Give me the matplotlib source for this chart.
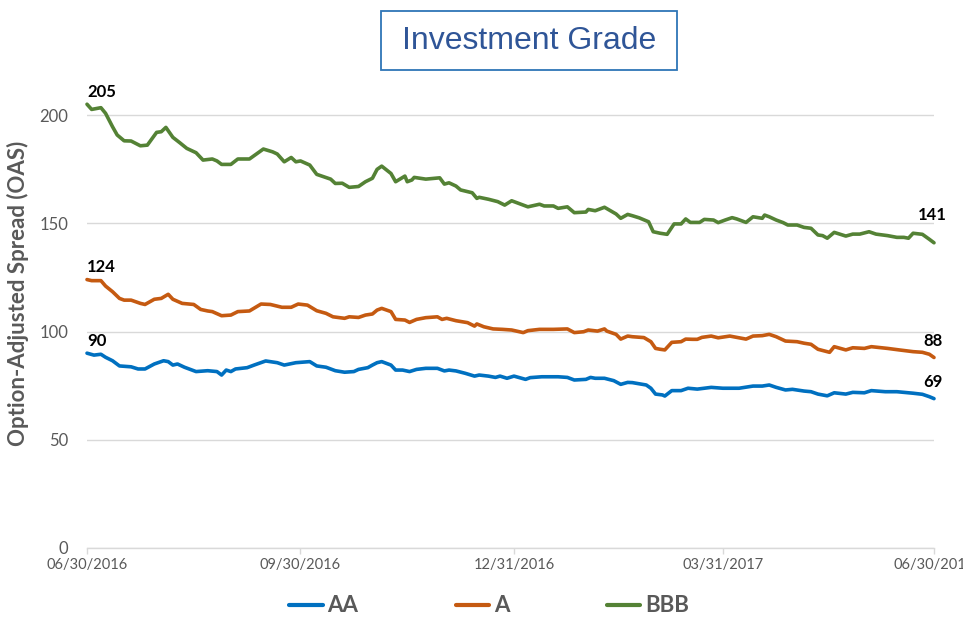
import pandas as pd
import matplotlib
matplotlib.use('Agg')
import matplotlib.pyplot as plt
import matplotlib.dates as mdates
from matplotlib.patches import Rectangle

plt.rcParams['font.family'] = ['Lato', 'DejaVu Sans']

# Data: days since 06/30/2016 and spread (OAS)
start = pd.Timestamp('2016-06-30')

bbb_days = [0, 2, 6, 8, 11, 13, 16, 19, 23, 26, 30, 32, 34, 37, 40, 43, 47, 50, 54, 56,
            58, 62, 65, 70, 73, 76, 80, 82, 85, 88, 90, 92, 96, 99, 105, 107, 110, 113, 117, 120,
            123, 125, 127, 131, 133, 137, 138, 140, 141, 146, 152, 154, 156, 159, 161, 166, 168, 169, 173, 177,
            180, 183, 187, 190, 195, 197, 201, 203, 207, 210, 215, 216, 219, 223, 228, 230, 233, 235, 238, 242,
            244, 247, 250, 253, 256, 258, 260, 264, 266, 270, 272, 275, 278, 280, 284, 287, 291, 292, 294, 297,
            300, 302, 306, 309, 312, 315, 317, 319, 322, 327, 330, 333, 337, 340, 345, 349, 352, 354, 356, 360,
            363, 365]
bbb_vals = [205, 202.6, 203.4, 200.8, 194.6, 190.8, 188.1, 188, 185.8, 186.1, 192, 192.3, 194.3, 189.7, 187.2, 184.6, 182.6, 179.2, 179.7, 178.8,
            177.2, 177.2, 179.7, 179.7, 182, 184.3, 183, 182, 178.4, 180.4, 178.4, 178.8, 176.9, 172.6, 170.4, 168.4, 168.5, 166.6, 167, 169.2,
            170.8, 174.9, 176.4, 173, 169.2, 171.8, 169.2, 170, 171.2, 170.4, 171, 168.1, 168.7, 167.2, 165.4, 164.1, 161.5, 162, 161.1, 160,
            158.4, 160.4, 158.8, 157.6, 158.8, 158, 158, 156.9, 157.6, 154.9, 155.2, 156.4, 155.8, 157.4, 154.3, 152.3, 154.1, 153.5, 152.5, 150.7,
            146.1, 145.4, 144.9, 149.7, 149.7, 152, 150.4, 150.4, 151.8, 151.5, 150.3, 151.5, 152.6, 152, 150.4, 153, 152.3, 153.8, 153, 151.5,
            150.3, 149.2, 149.2, 148.1, 147.7, 144.6, 144.3, 143.1, 145.8, 144.1, 145, 145, 146.1, 145, 144.3, 143.5, 143.5, 143.1, 145.4, 144.9,
            142.6, 141]

a_days = [0, 2, 6, 8, 11, 14, 16, 19, 23, 25, 29, 32, 35, 37, 41, 46, 49, 52, 54, 58,
          62, 65, 70, 75, 79, 84, 88, 91, 95, 99, 103, 106, 111, 113, 117, 120, 123, 125, 127, 131,
          133, 137, 139, 142, 146, 151, 153, 155, 159, 164, 167, 168, 171, 175, 179, 183, 188, 190, 195, 201,
          207, 210, 214, 216, 220, 223, 224, 228, 230, 233, 235, 240, 243, 245, 247, 249, 252, 256, 258, 261,
          263, 265, 269, 272, 277, 284, 287, 291, 294, 297, 301, 306, 309, 312, 315, 320, 322, 327, 330, 335,
          338, 345, 350, 356, 360, 363, 365]
a_vals = [124, 123.5, 123.5, 121, 118.4, 115.3, 114.5, 114.5, 113, 112.5, 114.9, 115.3, 117.2, 114.9, 113, 112.5, 110.2, 109.5, 109.2, 107.3,
          107.6, 109.2, 109.5, 112.7, 112.5, 111.2, 111.2, 112.7, 112.2, 109.6, 108.4, 106.8, 106.1, 106.8, 106.5, 107.6, 108.1, 109.9, 110.7, 109.2,
          105.6, 105.3, 104.2, 105.6, 106.4, 106.8, 105.6, 106.1, 105, 104.1, 102.5, 103.5, 102.2, 101.2, 101, 100.7, 99.5, 100.4, 101, 101,
          101.2, 99.5, 99.9, 100.7, 100.2, 101.2, 100.2, 98.7, 96.5, 97.9, 97.6, 97.2, 95.3, 92.2, 91.8, 91.5, 95, 95.3, 96.5, 96.4,
          96.4, 97.3, 97.9, 97.1, 97.9, 96.5, 97.9, 98.1, 98.7, 97.6, 95.6, 95.3, 94.6, 94.1, 91.8, 90.4, 93, 91.5, 92.5, 92.2,
          93, 92.2, 91.5, 90.7, 90.4, 89.5, 88]

aa_days = [0, 3, 6, 8, 11, 14, 19, 22, 25, 29, 33, 35, 37, 39, 42, 47, 52, 56, 58, 60,
           62, 64, 69, 72, 77, 82, 85, 90, 96, 99, 103, 107, 111, 115, 117, 121, 123, 125, 127, 131,
           133, 136, 139, 142, 146, 151, 154, 156, 159, 163, 167, 169, 173, 176, 178, 181, 184, 189, 191, 196,
           203, 207, 210, 215, 217, 219, 223, 227, 230, 233, 235, 241, 243, 245, 248, 249, 252, 256, 259, 263,
           269, 274, 281, 287, 291, 294, 297, 301, 304, 309, 312, 315, 319, 322, 327, 330, 335, 338, 344, 349,
           356, 360, 363, 365]
aa_vals = [90, 89.1, 89.5, 88.1, 86.5, 84.1, 83.7, 82.7, 82.7, 85, 86.5, 86.1, 84.5, 85, 83.5, 81.5, 81.9, 81.5, 79.9, 82.2,
           81.5, 82.7, 83.3, 84.5, 86.4, 85.6, 84.5, 85.6, 86.1, 84.1, 83.5, 81.9, 81.2, 81.5, 82.5, 83.3, 84.5, 85.6, 86.1, 84.5,
           82.2, 82.2, 81.5, 82.5, 83, 83, 81.8, 82.2, 81.8, 80.7, 79.4, 79.9, 79.4, 78.8, 79.4, 78.4, 79.4, 77.9, 78.7, 79.1,
           79.1, 78.8, 77.6, 77.9, 78.8, 78.4, 78.4, 77.3, 75.6, 76.5, 76.4, 75.3, 73.8, 71.1, 70.7, 70.2, 72.7, 72.7, 73.8, 73.4,
           74.2, 73.8, 73.8, 74.8, 74.8, 75.3, 74.2, 73, 73.3, 72.5, 72.2, 71.1, 70.3, 71.7, 71.1, 71.9, 71.7, 72.7, 72.2, 72.2,
           71.5, 71, 69.9, 69]

series_names = ['AA', 'A', 'BBB']
series_colors = ['#0070C0', '#C55A11', '#548235']
tick_dates = ['2016-06-30', '2016-09-30', '2016-12-31', '2017-03-31', '2017-06-30']
y_ticks = [0, 50, 100, 150, 200]

gray = '#595959'
grid = '#D9D9D9'

fig = plt.figure(figsize=(9.63, 6.20), dpi=100)
ax = fig.add_axes([87 / 963, 1 - 548 / 620, 847 / 963, 454.6 / 620])

all_days = [aa_days, a_days, bbb_days]
all_vals = [aa_vals, a_vals, bbb_vals]

for name, color, days, vals in zip(series_names, series_colors, all_days, all_vals):
    dates = start + pd.to_timedelta(days, unit='D')
    ax.plot(dates, vals, color=color, lw=2.6, label=name, clip_on=False,
            solid_joinstyle='round', solid_capstyle='round')
    # first / last value labels
    ax.annotate(f'{vals[0]:.0f}', (dates[0], vals[0]), xytext=(0, 3), textcoords='offset points',
                ha='left', va='bottom', fontsize=12, fontweight='bold', color='black')
    off = 14 if name == 'BBB' else 6
    ax.annotate(f'{vals[-1]:.0f}', (dates[-1], vals[-1]), xytext=(-1, off), textcoords='offset points',
                ha='center', va='bottom', fontsize=12, fontweight='bold', color='black')

ax.set_xlim(start, pd.Timestamp('2017-06-30'))
ax.set_ylim(0, 210)
ax.set_yticks(y_ticks)
ax.set_xticks(pd.to_datetime(tick_dates))
ax.xaxis.set_major_formatter(mdates.DateFormatter('%m/%d/%Y'))

ax.grid(axis='y', color=grid, lw=1)
ax.set_axisbelow(True)
for s in ['top', 'right', 'left']:
    ax.spines[s].set_visible(False)
ax.spines['bottom'].set_color(grid)
ax.spines['bottom'].set_linewidth(1)

ax.tick_params(axis='y', length=0, pad=13.5, labelsize=12, labelcolor=gray)
ax.tick_params(axis='x', length=4, width=1, color=grid, pad=3, labelsize=10.5, labelcolor=gray)

ax.set_ylabel('Option-Adjusted Spread (OAS)', fontsize=16, fontweight='bold', color=gray)
ax.yaxis.set_label_coords(-58 / 847, 0.56)

# Title box
fig.patches.append(Rectangle((381 / 963, 1 - 70 / 620), 296 / 963, 59 / 620, transform=fig.transFigure,
                             fill=False, edgecolor='#2E75B6', lw=1.3))
fig.text(529 / 963, 1 - 41 / 620, 'Investment Grade', ha='center', va='center',
         fontsize=23, color='#2F5597', family='Liberation Sans')

leg = fig.legend(loc='center', bbox_to_anchor=(489 / 963, 1 - 606 / 620), ncol=3, frameon=False,
                 handlelength=1.5, handletextpad=0.2, columnspacing=4.4,
                 prop={'size': 16, 'weight': 'bold'})
for t in leg.get_texts():
    t.set_color(gray)
for h in leg.legend_handles:
    h.set_linewidth(3)

fig.savefig('out.png', dpi=100)
